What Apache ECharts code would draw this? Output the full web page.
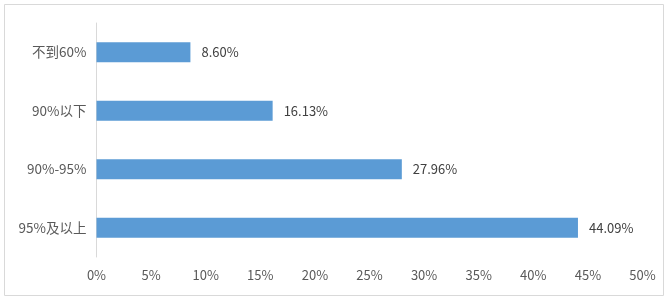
<!DOCTYPE html>
<html><head><meta charset="utf-8">
<script src="https://cdn.jsdelivr.net/npm/echarts@6/dist/echarts.min.js"></script>
<style>html,body{margin:0;padding:0;background:#fff}#c{width:670px;height:303px}</style>
</head><body><div id="c"></div>
<script>
const categories = ['95%及以上', '90%-95%', '90%以下', '不到60%'];
const values = [44.09, 27.96, 16.13, 8.60];
const xTicks = [0, 5, 10, 15, 20, 25, 30, 35, 40, 45, 50];

const font = '"Noto Sans CJK SC", "Microsoft YaHei", sans-serif';
const chart = echarts.init(document.getElementById('c'));
chart.setOption({
  animation: false,
  textStyle: { fontFamily: font },
  graphic: [{
    type: 'rect', shape: { x: 4.5, y: 4.5, width: 659, height: 291 },
    style: { fill: 'none', stroke: '#d9d9d9', lineWidth: 1 }, silent: true
  }],
  grid: { left: 96.5, right: 27.5, top: 23, bottom: 46 },
  xAxis: {
    type: 'value', min: xTicks[0], max: xTicks[xTicks.length - 1], interval: 5,
    axisLine: { show: false }, axisTick: { show: false }, splitLine: { show: false },
    axisLabel: { formatter: v => v + '%', color: '#595959', fontSize: 13, margin: 12, fontFamily: font }
  },
  yAxis: {
    type: 'category', data: categories,
    axisLine: { show: true, lineStyle: { color: '#d9d9d9', width: 1 } },
    axisTick: { show: false },
    axisLabel: { color: '#595959', fontSize: 13.5, margin: 10, fontFamily: font }
  },
  series: [{
    type: 'bar', data: values, barWidth: 20,
    itemStyle: { color: '#5b9bd5' },
    label: { show: true, position: 'right', distance: 11, color: '#404040', fontSize: 13,
      fontFamily: font, formatter: p => p.value.toFixed(2) + '%' }
  }]
});
</script></body></html>
